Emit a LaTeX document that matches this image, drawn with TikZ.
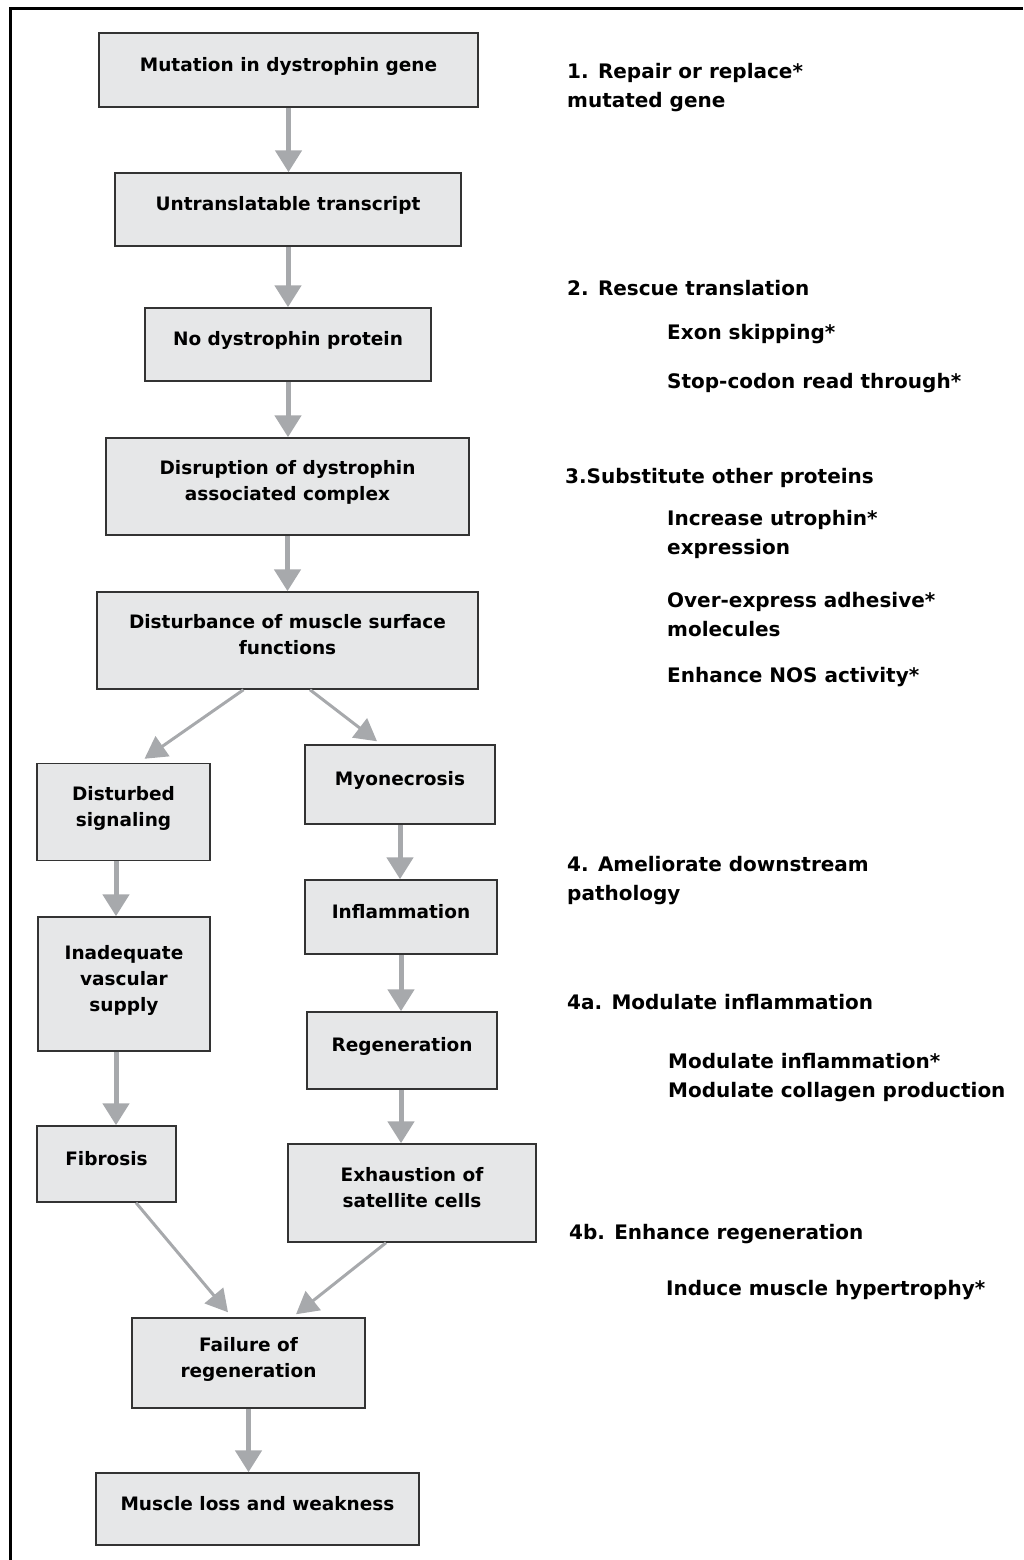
\documentclass[tikz,border=0pt]{standalone}
\usepackage{fontspec}
\setmainfont{DejaVu Sans}
\usetikzlibrary{arrows.meta}

\definecolor{boxgray}{HTML}{E6E7E8}
\definecolor{arrowgray}{HTML}{A7A9AC}
\definecolor{edgegray}{HTML}{333333}

\tikzset{
  stepbox/.style={draw=edgegray, line width=1.5pt, fill=boxgray, align=center, inner sep=0pt,
    font=\bfseries\fontsize{18.5}{26}\selectfont, text depth=12pt},
  flow/.style={draw=arrowgray, line width=5pt, -{Triangle[width=26pt, length=22pt]}},
  slant/.style={draw=arrowgray, line width=3pt, -{Triangle[width=24pt, length=22pt]}},
  note/.style={anchor=base west, align=left, inner sep=0pt, font=\bfseries\fontsize{20}{29}\selectfont}
}

\begin{document}
\begin{tikzpicture}[x=1pt, y=-1pt]
    \useasboundingbox (0,0) rectangle (1023,1560);
    \draw[line width=3pt] (10,1560) -- (10,9) -- (1023,9); % frame

    % main chain
    \node[stepbox, minimum width=379pt, minimum height=74pt] (mut) at (288.5,70) {Mutation in dystrophin gene};
    \node[stepbox, minimum width=346pt, minimum height=73pt] (untr) at (288,209.5) {Untranslatable transcript};
    \node[stepbox, minimum width=286pt, minimum height=73pt] (nodys) at (288,344.5) {No dystrophin protein};
    \node[stepbox, minimum width=363pt, minimum height=97pt] (disr) at (287.5,486.5) {Disruption of dystrophin\\associated complex};
    \node[stepbox, minimum width=381pt, minimum height=97pt] (surf) at (287.5,640.5) {Disturbance of muscle surface\\functions};

    % left branch
    \node[stepbox, minimum width=173pt, minimum height=97pt] (sig) at (123.5,812) {Disturbed\\signaling};
    \node[stepbox, minimum width=172pt, minimum height=134pt] (vasc) at (124,984) {Inadequate\\vascular\\supply};
    \node[stepbox, minimum width=139pt, minimum height=76pt] (fib) at (106.5,1164) {Fibrosis};

    % right branch
    \node[stepbox, minimum width=190pt, minimum height=79pt] (necr) at (400,784.5) {Myonecrosis};
    \node[stepbox, minimum width=192pt, minimum height=74pt] (infl) at (401,917) {Inflammation};
    \node[stepbox, minimum width=190pt, minimum height=77pt] (regen) at (402,1050.5) {Regeneration};
    \node[stepbox, minimum width=248pt, minimum height=98pt] (exh) at (412,1193) {Exhaustion of\\satellite cells};

    % outcome
    \node[stepbox, minimum width=233pt, minimum height=90pt] (fail) at (248.5,1363) {Failure of\\regeneration};
    \node[stepbox, minimum width=323pt, minimum height=72pt] (loss) at (257.5,1509) {Muscle loss and weakness};

    % arrows
    \draw[flow] (mut.south) -- (mut.south |- untr.north);
    \draw[flow] (untr.south) -- (untr.south |- nodys.north);
    \draw[flow] (nodys.south) -- (nodys.south |- disr.north);
    \draw[flow] (disr.south) -- (disr.south |- surf.north);
    \draw[slant] ([xshift=-44pt]surf.south) -- ([xshift=21pt, yshift=4pt]sig.north);
    \draw[slant] ([xshift=22.5pt]surf.south) -- ([xshift=-23pt, yshift=3pt]necr.north);
    \draw[flow] ([xshift=-7.5pt]sig.south) -- ([xshift=-7.5pt]sig.south |- vasc.north);
    \draw[flow] ([xshift=-8pt]vasc.south) -- ([xshift=-8pt]vasc.south |- fib.north);
    \draw[flow] (necr.south) -- (necr.south |- infl.north);
    \draw[flow] (infl.south) -- (infl.south |- regen.north);
    \draw[flow] ([xshift=-1pt]regen.south) -- ([xshift=-1pt]regen.south |- exh.north);
    \draw[slant] ([xshift=29.5pt]fib.south) -- ([xshift=-20.5pt, yshift=5pt]fail.north);
    \draw[slant] ([xshift=-26pt]exh.south) -- ([xshift=47.5pt, yshift=3pt]fail.north);
    \draw[flow] (fail.south) -- (fail.south |- loss.north);

    % therapies (base = last line)
    \node[note] (n1) at (567,108) {1. Repair or replace*\\mutated gene};
    \node[note] (n2) at (567,295) {2. Rescue translation};
    \node[note] (n2a) at (667,339) {Exon skipping*};
    \node[note] (n2b) at (667,388) {Stop-codon read through*};
    \node[note] (n3) at (565,483) {3.Substitute other proteins};
    \node[note] (n3a) at (667,554) {Increase utrophin*\\expression};
    \node[note] (n3b) at (667,636) {Over-express adhesive*\\molecules};
    \node[note] (n3c) at (667,682) {Enhance NOS activity*};
    \node[note] (n4) at (567,900) {4. Ameliorate downstream\\pathology};
    \node[note] (n4a) at (567,1009) {4a. Modulate inflammation};
    \node[note] (n4a1) at (668,1097) {Modulate inflammation*\\Modulate collagen production};
    \node[note] (n4b) at (569,1239) {4b. Enhance regeneration};
    \node[note] (n4b1) at (666,1295) {Induce muscle hypertrophy*};
\end{tikzpicture}
\end{document}
